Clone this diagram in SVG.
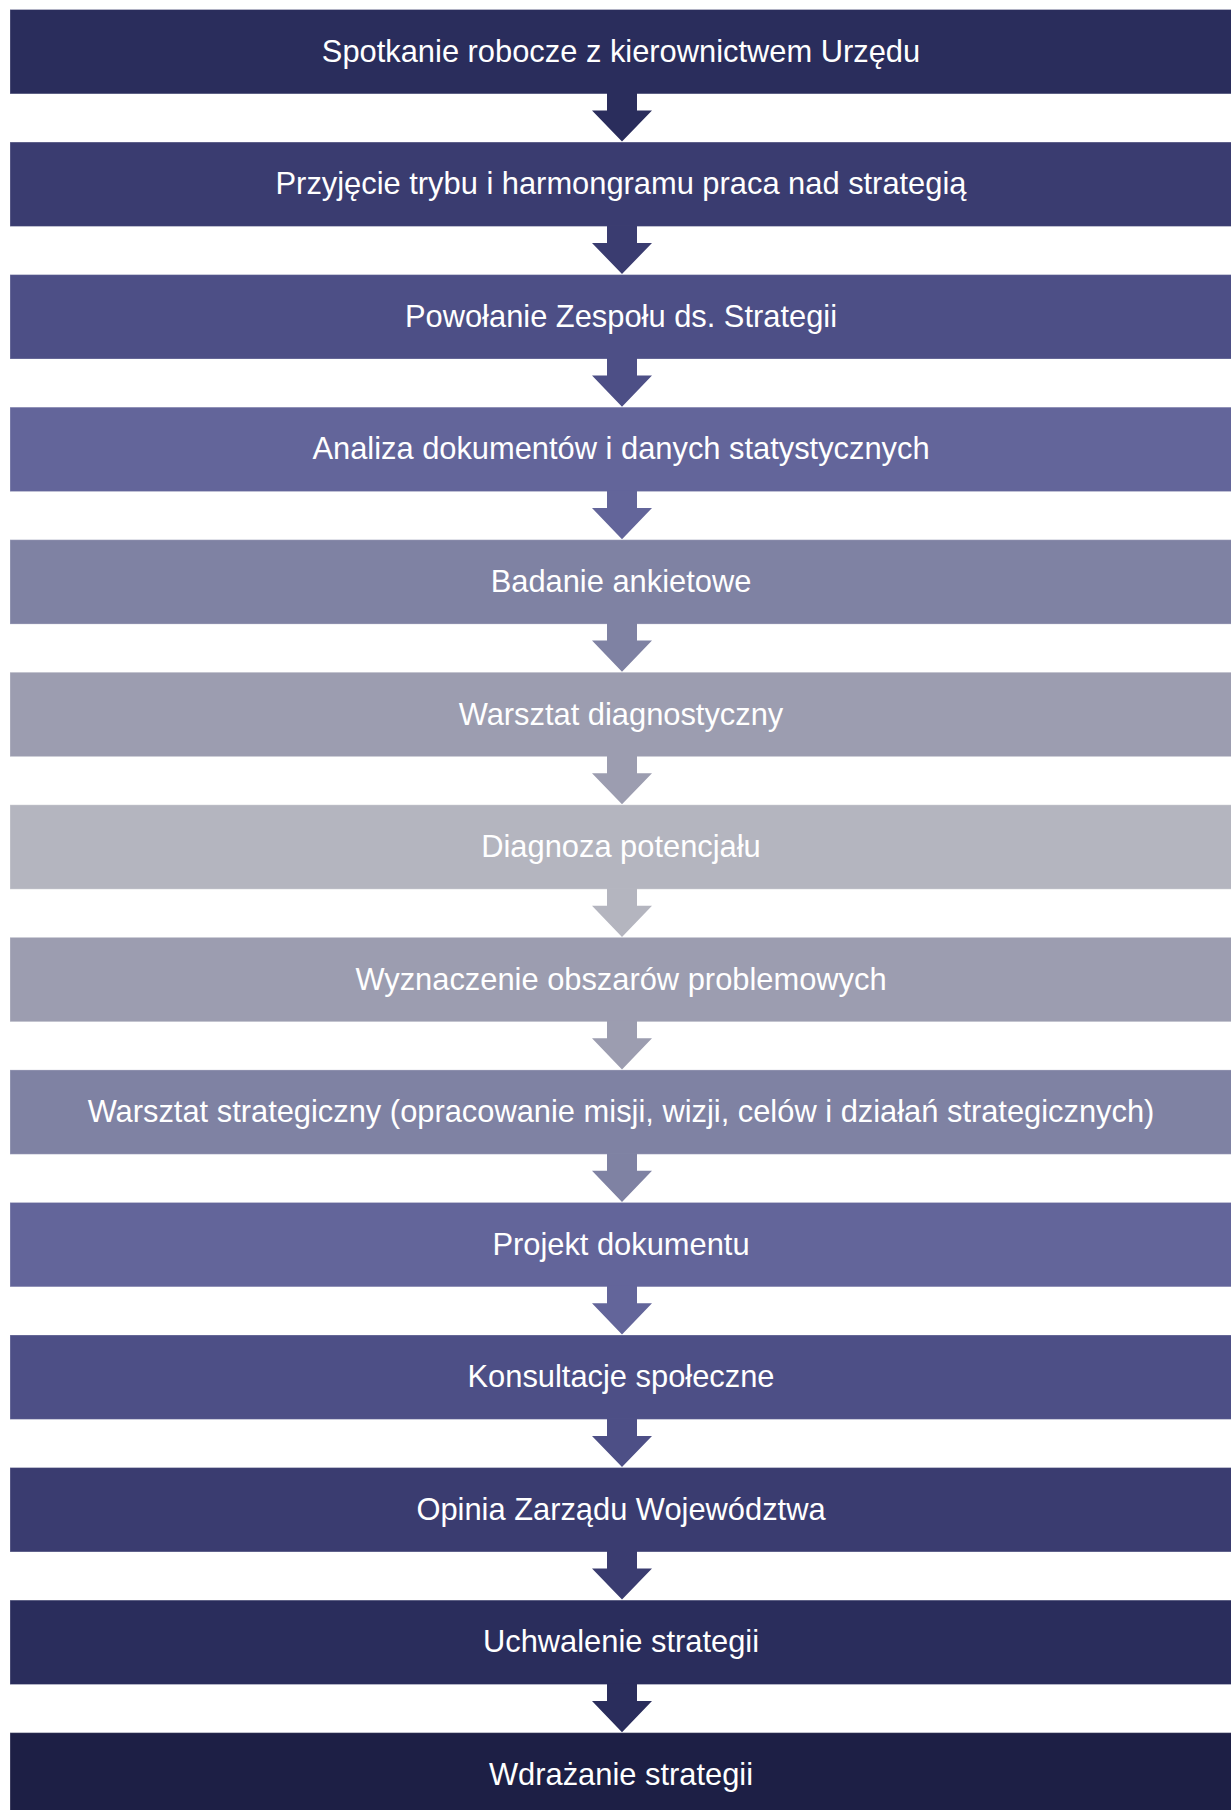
<svg xmlns="http://www.w3.org/2000/svg" width="1231" height="1810" viewBox="0 0 1231 1810">
<style>
.box{stroke:#ffffff;stroke-opacity:0.28;stroke-width:1}
.lbl{font-family:"Liberation Sans",Arial,Helvetica,sans-serif;font-size:30.85px;fill:#ffffff;text-anchor:middle}
.c1{fill:#2a2d5c}.c2{fill:#3a3c70}.c3{fill:#4d4f86}.c4{fill:#63659a}.c5{fill:#7f82a3}.c6{fill:#9c9db0}.c7{fill:#b4b5bf}.c8{fill:#1d1f45}
</style>
<rect width="1231" height="1810" fill="#ffffff"/>
<g id="n1"><rect class="box c1" x="10" y="9.5" width="1230" height="84.4"/><text class="lbl" x="621" y="61.8">Spotkanie robocze z kierownictwem Urzędu</text></g>
<g id="n2"><rect class="box c2" x="10" y="142.05" width="1230" height="84.4"/><text class="lbl" x="621" y="194.35">Przyjęcie trybu i harmongramu praca nad strategią</text></g>
<g id="n3"><rect class="box c3" x="10" y="274.6" width="1230" height="84.4"/><text class="lbl" x="621" y="326.9">Powołanie Zespołu ds. Strategii</text></g>
<g id="n4"><rect class="box c4" x="10" y="407.15" width="1230" height="84.4"/><text class="lbl" x="621" y="459.45">Analiza dokumentów i danych statystycznych</text></g>
<g id="n5"><rect class="box c5" x="10" y="539.7" width="1230" height="84.4"/><text class="lbl" x="621" y="592">Badanie ankietowe</text></g>
<g id="n6"><rect class="box c6" x="10" y="672.25" width="1230" height="84.4"/><text class="lbl" x="621" y="724.55">Warsztat diagnostyczny</text></g>
<g id="n7"><rect class="box c7" x="10" y="804.8" width="1230" height="84.4"/><text class="lbl" x="621" y="857.1">Diagnoza potencjału</text></g>
<g id="n8"><rect class="box c6" x="10" y="937.35" width="1230" height="84.4"/><text class="lbl" x="621" y="989.65">Wyznaczenie obszarów problemowych</text></g>
<g id="n9"><rect class="box c5" x="10" y="1069.9" width="1230" height="84.4"/><text class="lbl" x="621" y="1122.2">Warsztat strategiczny (opracowanie misji, wizji, celów i działań strategicznych)</text></g>
<g id="n10"><rect class="box c4" x="10" y="1202.45" width="1230" height="84.4"/><text class="lbl" x="621" y="1254.75">Projekt dokumentu</text></g>
<g id="n11"><rect class="box c3" x="10" y="1335" width="1230" height="84.4"/><text class="lbl" x="621" y="1387.3">Konsultacje społeczne</text></g>
<g id="n12"><rect class="box c2" x="10" y="1467.55" width="1230" height="84.4"/><text class="lbl" x="621" y="1519.85">Opinia Zarządu Województwa</text></g>
<g id="n13"><rect class="box c1" x="10" y="1600.1" width="1230" height="84.4"/><text class="lbl" x="621" y="1652.4">Uchwalenie strategii</text></g>
<g id="n14"><rect class="box c8" x="10" y="1732.65" width="1230" height="84.4"/><text class="lbl" x="621" y="1784.95">Wdrażanie strategii</text></g>
<g id="connectors">
<polygon class="c1" points="607,93 637,93 637,110.4 652,110.4 622,141.6 592,110.4 607,110.4"/>
<polygon class="c2" points="607,225.5 637,225.5 637,242.95 652,242.95 622,274.1 592,242.95 607,242.95"/>
<polygon class="c3" points="607,358 637,358 637,375.5 652,375.5 622,406.7 592,375.5 607,375.5"/>
<polygon class="c4" points="607,490.5 637,490.5 637,508.05 652,508.05 622,539.2 592,508.05 607,508.05"/>
<polygon class="c5" points="607,623.1 637,623.1 637,640.6 652,640.6 622,671.8 592,640.6 607,640.6"/>
<polygon class="c6" points="607,755.6 637,755.6 637,773.15 652,773.15 622,804.3 592,773.15 607,773.15"/>
<polygon class="c7" points="607,888.2 637,888.2 637,905.7 652,905.7 622,936.9 592,905.7 607,905.7"/>
<polygon class="c6" points="607,1020.7 637,1020.7 637,1038.25 652,1038.25 622,1069.4 592,1038.25 607,1038.25"/>
<polygon class="c5" points="607,1153.3 637,1153.3 637,1170.8 652,1170.8 622,1202 592,1170.8 607,1170.8"/>
<polygon class="c4" points="607,1285.8 637,1285.8 637,1303.35 652,1303.35 622,1334.5 592,1303.35 607,1303.35"/>
<polygon class="c3" points="607,1418.4 637,1418.4 637,1435.9 652,1435.9 622,1467.1 592,1435.9 607,1435.9"/>
<polygon class="c2" points="607,1550.9 637,1550.9 637,1568.45 652,1568.45 622,1599.6 592,1568.45 607,1568.45"/>
<polygon class="c1" points="607,1683.5 637,1683.5 637,1701 652,1701 622,1732.2 592,1701 607,1701"/>
</g>
</svg>
